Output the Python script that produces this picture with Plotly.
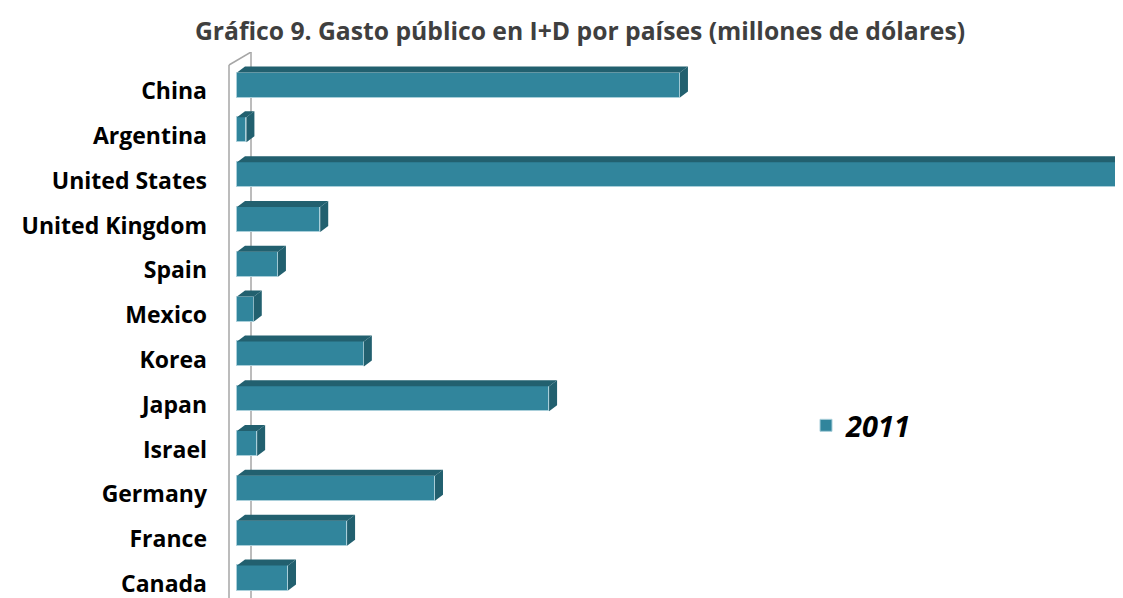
import plotly.graph_objs as go

## Datos (millones de dólares)
paises  = ['China', 'Argentina', 'United States', 'United Kingdom', 'Spain', 'Mexico',
           'Korea', 'Japan', 'Israel', 'Germany', 'France', 'Canada']
gasto   = [66000, 1400, 133500, 12400, 6100, 2500, 18900, 46500, 3000, 29500, 16400, 7600]
serie   = '2011'

FRONT = '#31859C'
DARK  = '#22606F'

# la pagina tiene 8px de margen en el body
W, H     = 1115, 590
L, T     = 217, 44
px_unit  = 149.0                       # millones por pixel
x_min    = -12 * px_unit
x_max    = (W - L - 12) * px_unit
band     = 44.8                        # pixeles por categoria
y_pos    = list(range(len(paises)))[::-1]
y_lo     = -(598 - 584) / band
y_hi     = 11 + (91 - 52) / band

bw   = 25 / band                       # alto de la cara frontal
lift = 6 / band                        # desplazamiento hacia arriba
dx   = 8 * px_unit                     # profundidad 3D
dy   = 6 / band
off  = lift - bw / 2

fig = go.Figure()
fig.add_trace(go.Bar(x=gasto, y=y_pos, orientation='h', width=bw, offset=off,
                     name=serie, marker=dict(color=FRONT, line=dict(color='#A9CFDA', width=1))))

# caras superior y lateral
tx, ty, sx, sy = [], [], [], []
for v, c in zip(gasto, y_pos):
    b0 = c + off
    b1 = b0 + bw
    tx += [0, v, v + dx, dx, 0, None]
    ty += [b1, b1, b1 + dy, b1 + dy, b1, None]
    sx += [v, v + dx, v + dx, v, v, None]
    sy += [b0, b0 + dy, b1 + dy, b1, b0, None]
for xs, ys in ((tx, ty), (sx, sy)):
    fig.add_trace(go.Scatter(x=xs, y=ys, fill='toself', fillcolor=DARK, mode='lines',
                             line=dict(width=0), showlegend=False, hoverinfo='skip'))

# pared del fondo
wall = dict(type='line', xref='x', yref='y', line=dict(color='#A6A6A6', width=1.5), layer='below')
fig.add_shape(**wall, x0=-8 * px_unit, x1=-8 * px_unit, y0=y_lo, y1=y_hi - 13 / band)
fig.add_shape(**wall, x0=-8 * px_unit, x1=14 * px_unit, y0=y_hi - 13 / band, y1=y_hi)
fig.add_shape(**wall, x0=14 * px_unit, x1=14 * px_unit, y0=y_lo, y1=y_hi)

pw = W - L
fig.update_layout(
    width=W, height=H,
    margin=dict(l=L, r=0, t=T, b=0),
    plot_bgcolor='white', paper_bgcolor='white',
    title=dict(text='<b>Gráfico 9. Gasto público en I+D por países (millones de dólares)</b>',
               x=572 / W, xanchor='center', y=1 - 23 / H, yanchor='middle',
               font=dict(family='Open Sans', size=24.7, color='#3F3F3F')),
    xaxis=dict(range=[x_min, x_max], visible=False, showgrid=False, zeroline=False),
    yaxis=dict(range=[y_lo, y_hi], tickvals=y_pos, ticktext=paises, showgrid=False,
               zeroline=False, showline=False, ticks='', ticklabelstandoff=17,
               ticklabeloverflow='allow',
               tickfont=dict(family='Open Sans', size=23, color='black', weight='bold')),
    legend=dict(x=(806 - 8 - L) / pw, y=0.316, xanchor='left', yanchor='middle',
                bgcolor='rgba(0,0,0,0)',
                font=dict(family='Open Sans', size=29, color='black', weight='bold', style='italic')),
    showlegend=True,
    bargap=0,
)

fig.write_html("out.html")
